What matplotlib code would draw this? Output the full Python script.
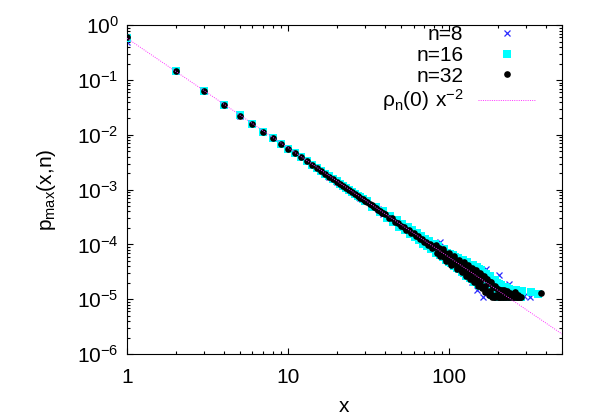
import numpy as np
import matplotlib
matplotlib.use("Agg")
import matplotlib.pyplot as plt
from matplotlib.ticker import NullFormatter

plt.rcParams['font.family'] = ['Liberation Sans', 'DejaVu Sans']
plt.rcParams['mathtext.default'] = 'regular'

# n=8 (blue crosses)
x_8 = [1, 2, 3, 4, 5, 6, 7, 8, 9, 10, 11, 12, 13, 14, 15, 16, 17, 18, 19, 20,
       22, 24, 26, 28, 30, 33, 36, 39, 42, 45, 48, 51, 54, 57, 60, 63, 66, 68,
       71, 73, 76, 79, 82, 85, 88, 91, 94, 97, 100, 104, 108, 112, 116, 120,
       124, 128, 132, 136, 139, 143, 149, 152, 156, 162, 165, 170, 175, 180,
       186, 192, 203, 210, 220, 234, 250, 270, 290, 316]
y_8 = [0.50, 0.146, 0.062, 0.0348, 0.0222, 0.0155, 0.0114, 0.0087, 0.0069,
       0.0056, 0.0046, 0.0039, 0.0033, 0.00285, 0.00248, 0.00218, 0.00193,
       0.00172, 0.00155, 0.0014, 0.00116, 0.00097, 0.00083, 0.00071, 0.00062,
       5.0e-4, 4.4e-4, 3.6e-4, 3.25e-4, 2.7e-4, 2.27e-4, 2.2e-4, 1.95e-4,
       1.7e-4, 1.5e-4, 1.45e-4, 1.25e-4, 1.0e-4, 1.15e-4, 9.8e-5, 1.0e-4,
       8.6e-5, 8.0e-5, 7.9e-5, 1.13e-4, 6.5e-5, 6.8e-5, 5.6e-5, 5.9e-5,
       4.9e-5, 5.3e-5, 4.2e-5, 4.6e-5, 3.6e-5, 4.1e-5, 3.1e-5, 3.6e-5,
       2.7e-5, 2.1e-5, 3.2e-5, 1.48e-5, 2.6e-5, 2.9e-5, 1.09e-5, 2.3e-5,
       3.5e-5, 1.8e-5, 1.5e-5, 2.1e-5, 1.3e-5, 2.8e-5, 1.2e-5, 1.5e-5,
       1.9e-5, 1.2e-5, 1.3e-5, 1.15e-5, 1.09e-5]

# n=16 (cyan squares)
x_16 = list(range(1, 31)) + list(range(31, 81, 2)) + list(range(81, 161, 2)) \
    + list(range(162, 280, 3)) + [284, 320, 355]
y_16 = [0.58, 0.148, 0.063, 0.0352, 0.0226, 0.0157, 0.0115, 0.0088, 0.0069,
        0.0056, 0.00465, 0.0039, 0.00333, 0.00287, 0.0025, 0.0022, 0.00195,
        0.00174, 0.00156, 0.00141, 0.00128, 0.00117, 0.00107, 0.00098,
        0.0009, 0.00083, 0.00077, 0.00072, 0.00067, 0.00063,
        6.2e-4, 4.9e-4, 4.9e-4, 3.85e-4, 4.0e-4, 3.1e-4, 3.3e-4, 2.55e-4,
        2.8e-4, 2.1e-4, 2.37e-4, 1.83e-4, 2.07e-4, 1.55e-4, 1.8e-4, 1.35e-4,
        1.61e-4, 1.2e-4, 1.41e-4, 1.04e-4, 1.28e-4, 9.5e-5, 1.15e-4, 8.3e-5,
        1.03e-4,
        1.0e-4, 7.0e-5, 9.3e-5, 6.3e-5, 8.1e-5, 5.95e-5, 8.1e-5, 5.3e-5,
        7.1e-5, 4.7e-5, 6.7e-5, 4.5e-5, 6.5e-5, 4.1e-5, 5.9e-5, 3.65e-5,
        5.7e-5, 3.6e-5, 5.2e-5, 3.15e-5, 5.15e-5, 3.05e-5, 4.65e-5, 2.7e-5,
        4.7e-5, 2.6e-5, 4.3e-5, 2.4e-5, 4.3e-5, 2.3e-5, 4.2e-5, 2.05e-5,
        3.7e-5, 2.07e-5, 3.8e-5, 1.92e-5, 3.5e-5, 1.75e-5, 3.4e-5, 1.78e-5,
        3.0e-5, 1.65e-5, 2.9e-5, 1.44e-5, 2.6e-5, 1.43e-5, 2.6e-5, 1.17e-5,
        2.27e-5, 1.18e-5, 2.2e-5, 1.18e-5, 2.0e-5, 1.12e-5, 1.9e-5, 1.12e-5,
        1.84e-5, 1.12e-5, 1.68e-5, 1.12e-5, 1.7e-5, 1.12e-5, 1.6e-5, 1.12e-5,
        1.55e-5, 1.12e-5, 1.45e-5, 1.12e-5, 1.5e-5, 1.12e-5, 1.4e-5, 1.12e-5,
        1.45e-5, 1.12e-5, 1.3e-5, 1.12e-5, 1.35e-5, 1.12e-5, 1.25e-5, 1.12e-5,
        1.4e-5, 1.35e-5, 1.25e-5]

# n=32 (black circles)
x_32 = list(range(1, 41)) + list(range(42, 161, 2)) + list(range(163, 278, 3)) \
    + [371] + list(range(83, 220, 4))
y_32 = [0.60, 0.148, 0.0622, 0.0350, 0.0224, 0.0156, 0.0114, 0.00875, 0.00691,
        0.0056, 0.00463, 0.00389, 0.00331, 0.00286, 0.00249, 0.00219, 0.00194,
        0.00173, 0.00155, 0.0014, 0.00127, 0.00116, 0.00106, 0.000972,
        0.000896, 0.000828, 0.000768, 0.000714, 0.000666, 0.000622,
        5.9e-4, 5.4e-4, 5.2e-4, 4.8e-4, 4.6e-4, 4.3e-4, 4.1e-4, 3.8e-4,
        3.7e-4, 3.6e-4,
        3.1e-4, 3.0e-4, 2.6e-4, 2.5e-4, 2.2e-4, 2.1e-4, 1.85e-4, 1.85e-4,
        1.6e-4, 1.6e-4, 1.4e-4, 1.42e-4, 1.24e-4, 1.27e-4, 1.09e-4, 1.13e-4,
        9.6e-5, 1.02e-4, 8.7e-5, 9.3e-5,
        9.0e-5, 7.1e-5, 8.5e-5, 6.9e-5, 7.3e-5, 5.8e-5, 7.0e-5, 5.65e-5,
        6.65e-5, 5.0e-5, 5.5e-5, 4.45e-5, 5.6e-5, 4.55e-5, 5.3e-5, 3.9e-5,
        4.5e-5, 3.75e-5, 4.5e-5, 3.3e-5, 4.45e-5, 3.35e-5, 3.7e-5, 2.8e-5,
        3.95e-5, 3.05e-5, 3.45e-5, 2.45e-5, 3.4e-5, 2.6e-5, 3.4e-5, 2.2e-5,
        2.75e-5, 2.25e-5, 3.0e-5, 1.95e-5, 2.6e-5, 2.05e-5, 2.8e-5, 1.7e-5,
        2.45e-5, 1.72e-5, 2.35e-5, 1.42e-5, 2.0e-5, 1.42e-5, 2.05e-5, 1.19e-5,
        1.68e-5, 1.12e-5, 1.72e-5, 1.17e-5, 1.55e-5, 1.12e-5, 1.45e-5,
        1.12e-5, 1.35e-5, 1.12e-5, 1.5e-5, 1.12e-5, 1.25e-5, 1.12e-5, 1.4e-5,
        1.12e-5, 1.12e-5, 1.3e-5, 1.12e-5, 1.12e-5, 1.25e-5, 1.12e-5, 1.12e-5,
        1.35e-5, 1.12e-5, 1.12e-5, 1.2e-5, 1.12e-5, 1.12e-5, 1.12e-5, 1.12e-5,
        1.32e-5,
        9.8e-5, 6.1e-5, 8.1e-5, 5.0e-5, 7.0e-5, 4.2e-5, 6.1e-5, 3.55e-5,
        5.3e-5, 3.1e-5, 4.75e-5, 2.65e-5, 4.2e-5, 2.3e-5, 3.75e-5, 2.05e-5,
        3.35e-5, 1.77e-5, 3.0e-5, 1.6e-5, 2.7e-5, 1.35e-5, 2.3e-5, 1.17e-5,
        2.05e-5, 1.12e-5, 1.75e-5, 1.12e-5, 1.6e-5, 1.12e-5, 1.5e-5, 1.12e-5,
        1.45e-5, 1.12e-5, 1.3e-5]

# reference curve rho_n(0) x^-2
rho = 0.58
x_line = np.array([1.0, 500.0])

fig = plt.figure(figsize=(5.98, 4.19), dpi=100)
ax = fig.add_axes([0.2124, 0.1551, 0.7274, 0.7845])

ax.plot(x_8, y_8, linestyle='none', marker='x', ms=5, mew=0.9,
        color='#2b2bff', label='n=8', zorder=2)
ax.plot(x_16, y_16, linestyle='none', marker='s', ms=5.2, mew=0,
        color='#00ffff', label='n=16', zorder=3)
ax.plot(x_32, y_32, linestyle='none', marker='o', ms=4.8, mew=0,
        color='black', label='n=32', zorder=4)
ax.plot(x_line, rho / x_line**2, color='#ff33ff', lw=0.7,
        linestyle=(0, (1, 1.3)), label=r'$\rho_n(0)\ x^{-2}$', zorder=5)

ax.set_xscale('log')
ax.set_yscale('log')
ax.set_xlim(1, 500)
ax.set_ylim(1e-6, 1)

ax.set_xticks([1, 10, 100])
ax.set_xticklabels(['1', '10', '100'])
ax.xaxis.set_minor_formatter(NullFormatter())
ax.yaxis.set_minor_formatter(NullFormatter())
ax.tick_params(which='both', direction='in', top=True, right=True,
               labelsize=15, width=0.8)
ax.tick_params(which='major', length=4.5)
ax.tick_params(which='minor', length=2.3)
ax.tick_params(axis='x', pad=10)
ax.tick_params(axis='y', pad=6)
for s in ax.spines.values():
    s.set_linewidth(0.8)

ax.set_xlabel('x', fontsize=15, labelpad=7)
ax.set_ylabel(r'p$_{max}$(x,n)', fontsize=15, labelpad=14)

leg = ax.legend(loc='upper right', bbox_to_anchor=(0.941, 1.0),
                frameon=False, markerfirst=False, numpoints=1, fontsize=15,
                handlelength=2.8, handletextpad=0.7, labelspacing=0.08,
                borderpad=0, borderaxespad=0)

fig.savefig('out.png', dpi=100)
